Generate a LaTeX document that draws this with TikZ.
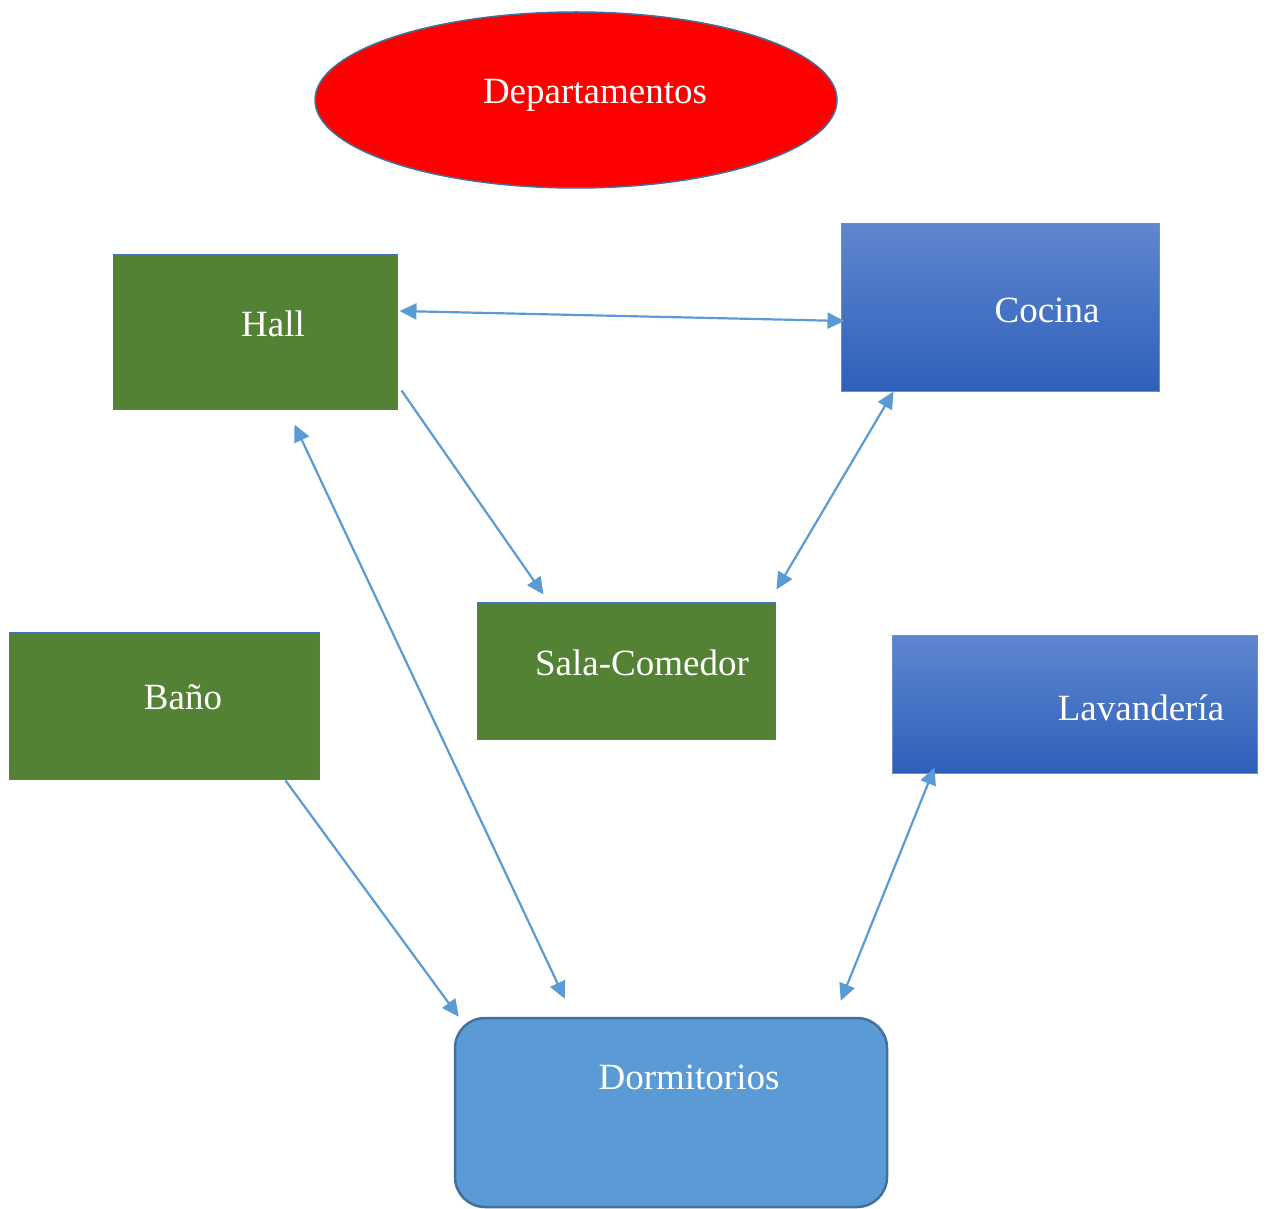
\documentclass[tikz,border=0pt]{standalone}
\usepackage{fontspec}
\setmainfont{Liberation Serif}
\usetikzlibrary{arrows.meta,shapes.geometric,calc}
\definecolor{roomgreen}{HTML}{548235}
\definecolor{edgeblue}{HTML}{4472C4}
\definecolor{darkedge}{HTML}{41719C}
\definecolor{linkblue}{HTML}{5B9BD5}
\definecolor{gradtop}{HTML}{5F86CF}
\definecolor{gradbot}{HTML}{2E60BA}
\definecolor{dormfill}{HTML}{5B9BD5}
\begin{document}
\begin{tikzpicture}[x=1pt,y=-1pt,
  lbl/.style={text=white,font=\fontsize{37}{42}\selectfont,inner sep=0pt},
  greenbox/.style={draw=edgeblue,line width=1pt,fill=roomgreen,inner sep=0pt},
  bluebox/.style={draw=edgeblue!80!white,line width=1pt,top color=gradtop,bottom color=gradbot,inner sep=0pt},
  link/.style={draw=linkblue,line width=2.2pt,-{Triangle[length=17pt,width=16pt]}},
  biglink/.style={draw=linkblue,line width=2.2pt,{Triangle[length=17pt,width=16pt]}-{Triangle[length=17pt,width=16pt]}}]
\useasboundingbox (0,0) rectangle (1269,1209);

% title ellipse
\node[ellipse,draw=darkedge,line width=1.5pt,fill=red,minimum width=522pt,minimum height=176pt,inner sep=0pt] (dep) at (576,100) {};
\node[lbl] (deptxt) at (595,95) {Departamentos};

% rooms
\node[greenbox,minimum width=284pt,minimum height=155pt] (hall) at (255,331.5) {};
\node[lbl] (halltxt) at (273,324) {Hall};

\node[bluebox,minimum width=318pt,minimum height=167pt] (cocina) at (1000,307.5) {};
\node[lbl] (cocinatxt) at (1047,310) {Cocina};

\node[greenbox,minimum width=310pt,minimum height=147pt] (bano) at (164,705.5) {};
\node[lbl] (banotxt) at (183,697) {Baño};

\node[greenbox,minimum width=298pt,minimum height=137pt] (sala) at (626,670.5) {};
\node[lbl] (salatxt) at (642,663) {Sala-Comedor};

\node[bluebox,minimum width=365pt,minimum height=138pt] (lav) at (1074.5,704) {};
\node[lbl] (lavtxt) at (1141,708) {Lavandería};

\node[draw=darkedge,line width=2.5pt,fill=dormfill,rounded corners=30pt,minimum width=432pt,minimum height=189pt,inner sep=0pt] (dorm) at (671,1112.5) {};
\node[lbl] (dormtxt) at (689,1077) {Dormitorios};

% connector end points
\coordinate (hallE) at ($(hall.east)+(2,-20.5)$);
\coordinate (cocW) at ($(cocina.west)+(4,13.5)$);
\coordinate (hallSE) at ($(hall.south east)+(4,-19)$);
\coordinate (salaNW) at ($(sala.north west)+(67,-7)$);
\coordinate (cocS) at ($(cocina.south west)+(53,0)$);
\coordinate (salaNE) at ($(sala.north east)+(1,-12)$);
\coordinate (hallS) at ($(hall.south west)+(182,15)$);
\coordinate (dormN) at ($(dorm.north west)+(111,-18)$);
\coordinate (banoS) at ($(bano.south west)+(277,1)$);
\coordinate (dormNW) at ($(dorm.north west)+(5,0)$);
\coordinate (lavS) at ($(lav.south west)+(43,-6)$);
\coordinate (dormNE) at ($(dorm.north west)+(387,-16)$);

% connectors
\draw[biglink] (hallE) -- (cocW);
\draw[link] (hallSE) -- (salaNW);
\draw[biglink] (cocS) -- (salaNE);
\draw[biglink] (hallS) -- (dormN);
\draw[link] (banoS) -- (dormNW);
\draw[biglink] (lavS) -- (dormNE);
\end{tikzpicture}
\end{document}
